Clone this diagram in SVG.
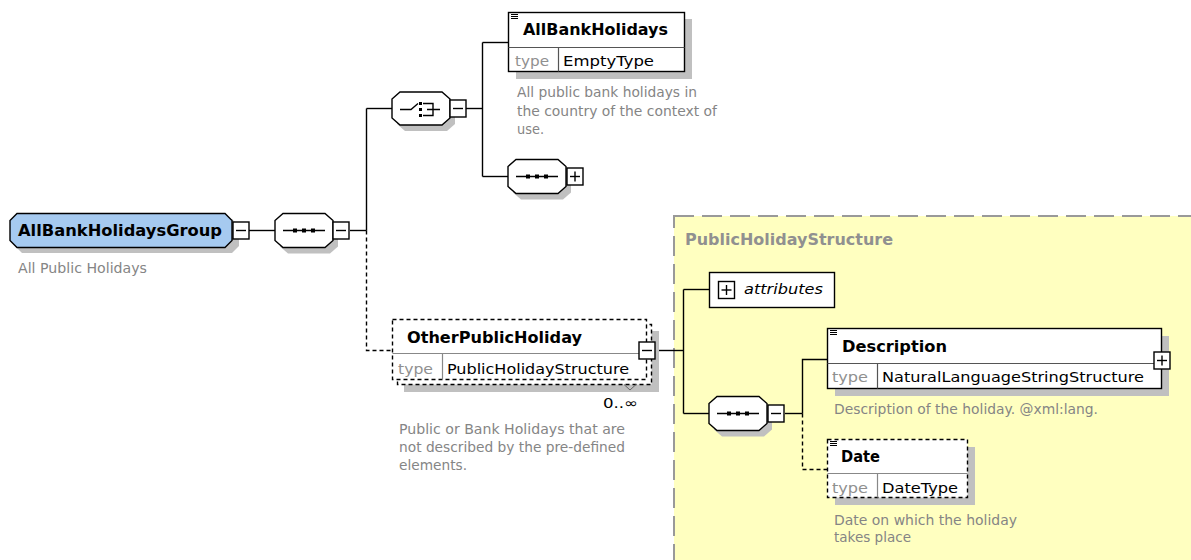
<svg xmlns="http://www.w3.org/2000/svg" xmlns:xlink="http://www.w3.org/1999/xlink" width="1191" height="560" viewBox="0 0 1191 560">
  <style>
    .ln { fill: none; stroke: #000; stroke-width: 1.4; }
    .dl { fill: none; stroke: #000; stroke-width: 1.4; stroke-dasharray: 4 3; }
    .box { fill: #fff; stroke: #000; stroke-width: 1.4; }
    .dbox { fill: #fff; stroke: #000; stroke-width: 1.4; stroke-dasharray: 4 3; }
    .div { fill: none; stroke: #555; stroke-width: 1.2; }
    .shd { fill: #c0c0c0; stroke: none; }
    .nm { font-family: "DejaVu Sans", sans-serif; font-weight: bold; font-size: 15px; fill: #000; }
    .ty { font-family: "DejaVu Sans", sans-serif; font-size: 14px; fill: #909090; }
    .tv { font-family: "DejaVu Sans", sans-serif; font-size: 14px; fill: #000; }
    .ds { font-family: "DejaVu Sans", sans-serif; font-size: 13.5px; fill: #858585; }
    .ti { font-family: "DejaVu Sans", sans-serif; font-weight: bold; font-size: 15px; fill: #909090; }
    .at { font-family: "DejaVu Sans", sans-serif; font-style: italic; font-size: 14px; fill: #000; }
  </style>
  <defs>
    <!-- sequence compositor: octagon with shadow -->
    <g id="seqShape">
      <path class="shd" d="M13,6 H55 L63,13 V33 L55,40 H13 L5,33 V13 Z"/>
      <path class="box" d="M8,0 H50 L58,7 V27 L50,34 H8 L0,27 V7 Z"/>
    </g>
    <!-- sequence icon, centred on origin -->
    <g id="seqIcon">
      <line class="ln" x1="-21" y1="0" x2="21" y2="0"/>
      <rect x="-11" y="-2" width="4" height="4" fill="#000"/>
      <rect x="-2" y="-2" width="4" height="4" fill="#000"/>
      <rect x="7" y="-2" width="4" height="4" fill="#000"/>
    </g>
    <!-- expand / collapse buttons -->
    <g id="minusBtn">
      <rect class="box" x="0" y="0" width="16" height="17"/>
      <line class="ln" x1="3" y1="8.5" x2="13" y2="8.5"/>
    </g>
    <g id="plusBtn">
      <rect class="box" x="0" y="0" width="16" height="17"/>
      <line class="ln" x1="3" y1="8.5" x2="13" y2="8.5"/>
      <line class="ln" x1="8" y1="3.5" x2="8" y2="13.5"/>
    </g>
    <!-- documentation marker in element header -->
    <g id="docMark">
      <line stroke="#000" stroke-width="1" x1="0" y1="0.5" x2="7" y2="0.5"/>
      <line stroke="#000" stroke-width="1" x1="0" y1="2.5" x2="7" y2="2.5"/>
      <line stroke="#000" stroke-width="1" x1="0" y1="4.5" x2="7" y2="4.5"/>
    </g>
  </defs>

  <rect width="1191" height="560" fill="#fff"/>

  <!-- complex type area -->
  <g id="PublicHolidayStructure">
    <rect x="674" y="216" width="600" height="400" fill="#ffffc0" stroke="#999" stroke-width="2" stroke-dasharray="20 8"/>
    <text class="ti" x="685" y="245" textLength="208" lengthAdjust="spacingAndGlyphs">PublicHolidayStructure</text>
  </g>

  <!-- connectors -->
  <g id="connectors">
    <line class="ln" x1="249" y1="230.5" x2="275" y2="230.5"/>
    <line class="ln" x1="350" y1="230.5" x2="366.5" y2="230.5"/>
    <line class="ln" x1="366.5" y1="108.5" x2="366.5" y2="230.5"/>
    <line class="ln" x1="366.5" y1="108.5" x2="392" y2="108.5"/>
    <path class="dl" d="M366.5,230.5 V350.5 H392"/>
    <line class="ln" x1="466" y1="108.5" x2="482.5" y2="108.5"/>
    <line class="ln" x1="482.5" y1="42.5" x2="482.5" y2="176.5"/>
    <line class="ln" x1="482.5" y1="42.5" x2="508.5" y2="42.5"/>
    <line class="ln" x1="482.5" y1="176.5" x2="508" y2="176.5"/>
    <line class="ln" x1="656" y1="350.5" x2="683.5" y2="350.5"/>
    <line class="ln" x1="683.5" y1="289.5" x2="683.5" y2="413.5"/>
    <line class="ln" x1="683.5" y1="289.5" x2="709.5" y2="289.5"/>
    <line class="ln" x1="683.5" y1="413.5" x2="709" y2="413.5"/>
    <line class="ln" x1="785" y1="413.5" x2="802.5" y2="413.5"/>
    <path class="ln" d="M802.5,413.5 V359.5 H827.5"/>
    <path class="dl" d="M802.5,413.5 V469.5 H827.5"/>
  </g>

  <!-- root group -->
  <g id="AllBankHolidaysGroup">
    <path class="shd" d="M22,219 H232 L239,226 V246 L232,253 H22 L15,246 V226 Z"/>
    <path fill="#a6caf0" stroke="#000" stroke-width="1.4" d="M17,213.5 H225 L232,220.5 V240.5 L225,247.5 H17 L10,240.5 V220.5 Z"/>
    <text class="nm" x="18" y="236" textLength="204" lengthAdjust="spacingAndGlyphs" style="font-size:16px">AllBankHolidaysGroup</text>
    <use xlink:href="#minusBtn" x="233" y="222"/>
    <text class="ds" x="18" y="273" textLength="129" lengthAdjust="spacingAndGlyphs">All Public Holidays</text>
  </g>

  <g id="sequence1">
    <use xlink:href="#seqShape" x="275" y="213.5"/>
    <use xlink:href="#seqIcon" x="304" y="230.5"/>
    <use xlink:href="#minusBtn" x="333" y="222"/>
  </g>

  <g id="choice">
    <path class="shd" d="M405,98 H447 L455,105 V124 L447,131 H405 L397,124 V105 Z"/>
    <path class="box" d="M400,92 H442 L450,99 V118 L442,125 H400 L392,118 V99 Z"/>
    <g class="ln">
      <path d="M400,109.5 H411 L418,103.5"/>
      <path d="M423,103.5 H433 V115.5 H423 M427,109.5 H440"/>
    </g>
    <rect x="419" y="102" width="3" height="3" fill="#000"/>
    <rect x="419" y="108" width="3" height="3" fill="#000"/>
    <rect x="419" y="114" width="3" height="3" fill="#000"/>
    <use xlink:href="#minusBtn" x="450" y="100"/>
  </g>

  <g id="AllBankHolidays">
    <rect class="shd" x="516" y="19" width="176" height="60"/>
    <rect class="box" x="508.5" y="12.5" width="176" height="59"/>
    <line class="div" x1="508.5" y1="47.5" x2="684.5" y2="47.5"/>
    <line class="div" x1="558.5" y1="47.5" x2="558.5" y2="71.5"/>
    <use xlink:href="#docMark" x="511" y="14"/>
    <text class="nm" x="523" y="35" textLength="145" lengthAdjust="spacingAndGlyphs">AllBankHolidays</text>
    <text class="ty" x="515" y="66" textLength="34" lengthAdjust="spacingAndGlyphs">type</text>
    <text class="tv" x="563" y="66" textLength="91" lengthAdjust="spacingAndGlyphs">EmptyType</text>
    <text class="ds" x="517" y="97" textLength="180" lengthAdjust="spacingAndGlyphs">All public bank holidays in</text>
    <text class="ds" x="517" y="116" textLength="200" lengthAdjust="spacingAndGlyphs">the country of the context of</text>
    <text class="ds" x="517" y="134" textLength="27" lengthAdjust="spacingAndGlyphs">use.</text>
  </g>

  <g id="sequence2">
    <use xlink:href="#seqShape" x="508" y="159.5"/>
    <use xlink:href="#seqIcon" x="537" y="176.5"/>
    <use xlink:href="#plusBtn" x="567" y="168"/>
  </g>

  <g id="OtherPublicHoliday">
    <rect class="shd" x="404" y="331" width="255" height="61"/>
    <rect class="dbox" x="397.5" y="324.5" width="254" height="60"/>
    <rect class="dbox" x="392.5" y="319.5" width="254" height="60"/>
    <line x1="392.5" y1="353.5" x2="646.5" y2="353.5" stroke="#888" stroke-width="1.2"/>
    <line x1="442.5" y1="353.5" x2="442.5" y2="379.5" stroke="#888" stroke-width="1.2"/>
    <path d="M624,384.5 L630,390 L636,384.5" fill="none" stroke="#666" stroke-width="1"/>
    <text class="nm" x="407" y="343" textLength="175" lengthAdjust="spacingAndGlyphs">OtherPublicHoliday</text>
    <text class="ty" x="398" y="374" textLength="35" lengthAdjust="spacingAndGlyphs">type</text>
    <text class="tv" x="447" y="374" textLength="182" lengthAdjust="spacingAndGlyphs">PublicHolidayStructure</text>
    <use xlink:href="#minusBtn" x="639" y="342"/>
    <text class="tv" x="603" y="408" textLength="35" lengthAdjust="spacingAndGlyphs">0..∞</text>
    <text class="ds" x="399" y="434" textLength="226" lengthAdjust="spacingAndGlyphs">Public or Bank Holidays that are</text>
    <text class="ds" x="399" y="452" textLength="226" lengthAdjust="spacingAndGlyphs">not described by the pre-defined</text>
    <text class="ds" x="399" y="470" textLength="68" lengthAdjust="spacingAndGlyphs">elements.</text>
  </g>

  <g id="attributes">
    <rect class="box" x="709.5" y="272.5" width="125" height="35"/>
    <use xlink:href="#plusBtn" x="718.5" y="281.5"/>
    <text class="at" x="744" y="294" textLength="79" lengthAdjust="spacingAndGlyphs">attributes</text>
  </g>

  <g id="sequence3">
    <use xlink:href="#seqShape" x="709" y="396.5"/>
    <use xlink:href="#seqIcon" x="738" y="413.5"/>
    <use xlink:href="#minusBtn" x="768" y="405"/>
  </g>

  <g id="Description">
    <rect class="shd" x="835" y="336" width="334" height="60"/>
    <rect class="box" x="827.5" y="328.5" width="334" height="60"/>
    <line class="div" x1="827.5" y1="363.5" x2="1161.5" y2="363.5"/>
    <line class="div" x1="877.5" y1="363.5" x2="877.5" y2="388.5"/>
    <use xlink:href="#docMark" x="830" y="330"/>
    <text class="nm" x="842" y="352" textLength="105" lengthAdjust="spacingAndGlyphs">Description</text>
    <text class="ty" x="832" y="382" textLength="36" lengthAdjust="spacingAndGlyphs">type</text>
    <text class="tv" x="882" y="382" textLength="262" lengthAdjust="spacingAndGlyphs">NaturalLanguageStringStructure</text>
    <use xlink:href="#plusBtn" x="1154" y="352"/>
    <text class="ds" x="834" y="414" textLength="264" lengthAdjust="spacingAndGlyphs">Description of the holiday. @xml:lang.</text>
  </g>

  <g id="Date">
    <rect class="shd" x="835" y="447" width="140" height="58"/>
    <rect class="dbox" x="827.5" y="439.5" width="140" height="58"/>
    <line x1="827.5" y1="473.5" x2="967.5" y2="473.5" stroke="#888" stroke-width="1.2"/>
    <line x1="877.5" y1="473.5" x2="877.5" y2="497.5" stroke="#888" stroke-width="1.2"/>
    <use xlink:href="#docMark" x="830" y="441"/>
    <text class="nm" x="841" y="462" textLength="39" lengthAdjust="spacingAndGlyphs">Date</text>
    <text class="ty" x="832" y="493" textLength="36" lengthAdjust="spacingAndGlyphs">type</text>
    <text class="tv" x="882" y="493" textLength="76" lengthAdjust="spacingAndGlyphs">DateType</text>
    <text class="ds" x="834" y="525" textLength="183" lengthAdjust="spacingAndGlyphs">Date on which the holiday</text>
    <text class="ds" x="834" y="542" textLength="77" lengthAdjust="spacingAndGlyphs">takes place</text>
  </g>
</svg>
